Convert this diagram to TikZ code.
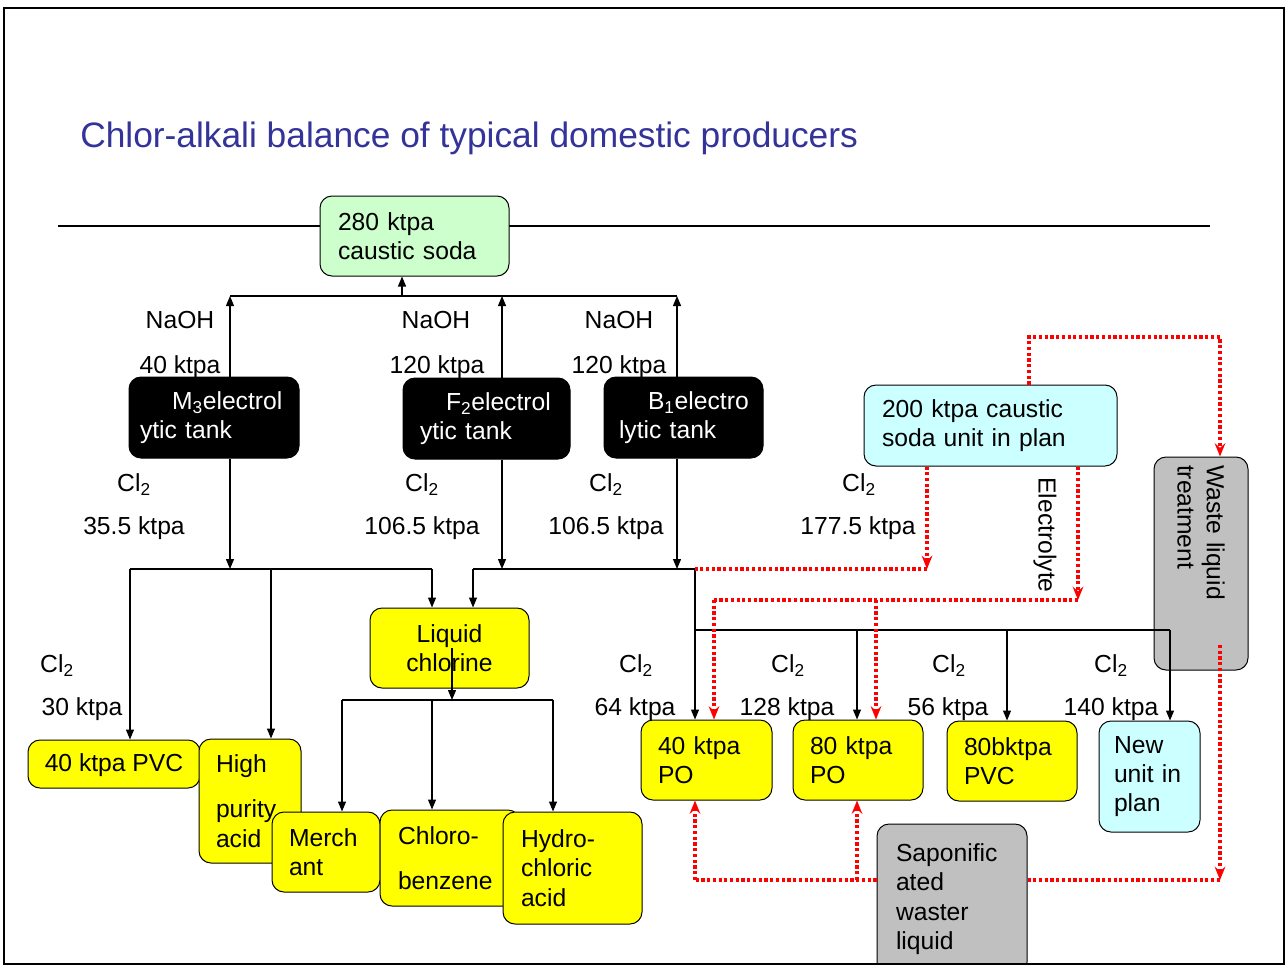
\documentclass[tikz,border=0pt]{standalone}
\usepackage{fontspec}
\setmainfont{Liberation Sans}
\usetikzlibrary{arrows.meta}
\definecolor{cgreen}{HTML}{CCFFCC}
\definecolor{ccyan}{HTML}{CCFFFF}
\definecolor{cyel}{HTML}{FFFF00}
\definecolor{cgray}{HTML}{C0C0C0}
\definecolor{ctitle}{HTML}{333399}
\definecolor{cred}{HTML}{FF0000}
\newcommand{\bodyfont}{\fontsize{18.5}{22}\selectfont}
\newcommand{\cltwo}{Cl\textsubscript{2}}
\begin{document}
\begin{tikzpicture}[x=0.75pt,y=-0.75pt,
  box/.style={draw=black,line width=0.75pt,rounded corners=9pt,inner ysep=0pt,font=\bodyfont},
  lb/.style={box,align=left},
  lab/.style={font=\bodyfont,anchor=base,inner sep=0pt},
  conn/.style={draw=black,line width=0.9pt},
  arr/.style={conn,-{Triangle[length=7.5pt,width=6pt]}},
  rdot/.style={draw=cred,line width=2.4pt,dash pattern=on 2.4pt off 1.9pt},
  rarr/.style={rdot,-{Stealth[length=10pt,width=8pt,inset=3.5pt]}}
]
\useasboundingbox (0,0) rectangle (1287,968);
\fill[white] (0,0) rectangle (1287,968);

% title
\node[anchor=base west,inner sep=0pt,text=ctitle,font=\fontsize{26.5}{30}\selectfont] (title) at (80,147) {Chlor-alkali balance of typical domestic producers};

% rule behind the top box
\coordinate (hl1) at (58,226);
\coordinate (hl2) at (1210,226);
\draw[conn] (hl1) -- (hl2);

% boxes
\node[lb,fill=cgreen,minimum height=60pt,text width=114.75pt,inner xsep=13.5pt] (cs) at (414.5,236) {280 ktpa\\caustic~soda};

\node[lb,fill=black,text=white,minimum height=60.75pt,text width=111pt,inner xsep=8.25pt] (m3) at (214,417.5) {\hspace*{24pt}M\textsubscript{3}electrol\\ytic~tank};
\node[lb,fill=black,text=white,minimum height=60.75pt,text width=99.75pt,inner xsep=12.75pt] (f2) at (486.5,418.5) {\hspace*{19.5pt}F\textsubscript{2}electrol\\ytic~tank};
\node[lb,fill=black,text=white,minimum height=60.75pt,text width=96.75pt,inner xsep=11.25pt] (b1) at (683.5,417.5) {\hspace*{21.75pt}B\textsubscript{1}electro\\lytic~tank};

\node[lb,fill=ccyan,minimum height=60.75pt,text width=162.75pt,inner xsep=13.5pt] (cp) at (990.5,425.5) {200~ktpa~caustic\\soda~unit~in~plan};

\node[lb,fill=cgray,rotate=-90,minimum height=70.5pt,text width=147.75pt,inner xsep=6pt] (wl) at (1201,563.5) {Waste~liquid\\treatment};

\node[box,fill=cyel,align=center,minimum width=119.25pt,minimum height=60pt] (lc) at (449.5,648) {Liquid\\chlorine};

\node[box,fill=cyel,align=center,minimum width=129pt,minimum height=36pt,text depth=2pt] (pvc) at (114,764) {40 ktpa PVC};
\node[lb,fill=cyel,minimum height=93pt,text width=51pt,inner xsep=12.75pt] (hp) at (250,801) {High\\[12pt]purity\\acid};
\node[lb,fill=cyel,minimum height=60pt,text width=55.5pt,inner xsep=12.75pt] (me) at (326,852) {Merch\\ant};
\node[lb,fill=cyel,minimum height=72pt,text width=78pt,inner xsep=13.5pt] (cb) at (450,858) {Chloro-\\[12pt]benzene};
\node[lb,fill=cyel,minimum height=84pt,text width=77.25pt,inner xsep=13.5pt] (hc) at (572.5,868) {Hydro-\\chloric\\acid};

\node[lb,fill=cyel,minimum height=60pt,text width=72.75pt,inner xsep=12.75pt] (po1) at (706.5,760) {40~ktpa\\PO};
\node[lb,fill=cyel,minimum height=60pt,text width=72pt,inner xsep=12.75pt] (po2) at (858,760) {80~ktpa\\PO};
\node[lb,fill=cyel,minimum height=60pt,text width=72pt,inner xsep=12.75pt] (pv2) at (1012,761) {80bktpa\\PVC};
\node[lb,fill=ccyan,minimum height=83.25pt,text width=53.25pt,inner xsep=11.25pt] (nu) at (1149.5,776.5) {New\\unit~in\\plan};

\begin{scope}
\clip (0,0) rectangle (1287,964);
\node[lb,fill=cgray,minimum height=112.5pt,text width=84pt,inner xsep=14.25pt] (sw) at (952,899) {Saponific\\ated\\waster\\liquid};
\end{scope}

% labels
\node[lab] (n1) at (180,328) {NaOH};
\node[lab] (k1) at (180,373) {40 ktpa};
\node[lab] (n2) at (436,328) {NaOH};
\node[lab] (k2) at (437,373) {120 ktpa};
\node[lab] (n3) at (619,328) {NaOH};
\node[lab] (k3) at (619,373) {120 ktpa};

\node[lab] (c1l) at (134,491) {\cltwo};
\node[lab] (c1k) at (134,534) {35.5 ktpa};
\node[lab] (c2l) at (422,491) {\cltwo};
\node[lab] (c2k) at (422,534) {106.5 ktpa};
\node[lab] (c3l) at (606,491) {\cltwo};
\node[lab] (c3k) at (606,534) {106.5 ktpa};
\node[lab] (c4l) at (859,491) {\cltwo};
\node[lab] (c4k) at (858,534) {177.5 ktpa};

\node[lab] (d1l) at (57,672) {\cltwo};
\node[lab] (d1k) at (82,715) {30 ktpa};
\node[lab] (d2l) at (636,672) {\cltwo};
\node[lab] (d2k) at (635,715) {64 ktpa};
\node[lab] (d3l) at (788,672) {\cltwo};
\node[lab] (d3k) at (787,715) {128 ktpa};
\node[lab] (d4l) at (949,672) {\cltwo};
\node[lab] (d4k) at (948,715) {56 ktpa};
\node[lab] (d5l) at (1111,672) {\cltwo};
\node[lab] (d5k) at (1111,715) {140 ktpa};

\node[font=\bodyfont,rotate=-90,inner sep=0pt] (el) at (1045,535) {Electrolyte};

% NaOH collection
\coordinate (t0) at (402,296);
\coordinate (a1) at (230,296);
\coordinate (a2) at (502,296);
\coordinate (a3) at (677,296);
\draw[conn] (a1) -- (a3);
\draw[arr] (t0) -- (t0 |- cs.south);
\draw[arr] (a1 |- m3.north) -- (a1);
\draw[arr] (a2 |- f2.north) -- (a2);
\draw[arr] (a3 |- b1.north) -- (a3);

% Cl2 down
\coordinate (c1) at (230,569);
\coordinate (c2) at (502,569);
\coordinate (c3) at (677,569);
\draw[arr] (c1 |- m3.south) -- (c1);
\draw[arr] (c2 |- f2.south) -- (c2);
\draw[arr] (c3 |- b1.south) -- (c3);

% left bus
\coordinate (L1) at (130,569);
\coordinate (L2) at (271,569);
\coordinate (L3) at (432,569);
\draw[conn] (L1) -- (L3);
\draw[arr] (L1) -- (L1 |- pvc.north);
\draw[arr] (L2) -- (L2 |- hp.north);
\draw[arr] (L3) -- (L3 |- lc.north);

% right bus
\coordinate (R1) at (473,569);
\coordinate (R2) at (695,569);
\coordinate (R3) at (695,630);
\coordinate (B2) at (857,630);
\coordinate (B3) at (1007,630);
\coordinate (B4) at (1170,630);
\draw[conn] (R1) -- (R2);
\draw[arr] (R1) -- (R1 |- lc.north);
\draw[arr] (R2) -- (R2 |- po1.north);
\draw[conn] (R3) -- (B4);
\draw[arr] (B2) -- (B2 |- po2.north);
\draw[arr] (B3) -- (B3 |- pv2.north);
\draw[arr] (B4) -- (B4 |- nu.north);

% liquid chlorine distribution
\coordinate (q0) at (452,700);
\coordinate (q1) at (342,700);
\coordinate (q2) at (432,700);
\coordinate (q3) at (553,700);
\draw[arr] (q0 |- lc.center) -- (q0);
\draw[conn] (q1) -- (q3);
\draw[arr] (q1) -- (q1 |- me.north);
\draw[arr] (q2) -- (q2 |- cb.north);
\draw[arr] (q3) -- (q3 |- hc.north);

% red dotted flows
\coordinate (r1) at (927,569);
\draw[rarr] (r1 |- cp.south) -- (r1);
\draw[rdot] (r1) -- (R2);

\coordinate (r2) at (1078,600);
\coordinate (r3) at (714,600);
\coordinate (r4) at (876,600);
\draw[rarr] (r2 |- cp.south) -- (r2);
\draw[rdot] (r2) -- (r3);
\draw[rarr] (r3) -- (r3 |- po1.north);
\draw[rarr] (r4) -- (r4 |- po2.north);

\coordinate (r5) at (1029,337);
\coordinate (r6) at (1220,337);
\draw[rarr] (r5 |- cp.north) -- (r5) -- (r6) -- (r6 |- wl.west);

\coordinate (r8) at (1220,645);
\coordinate (r7) at (1220,880);
\draw[rarr] (r8) -- (r7);
\draw[rdot] (sw.east |- r7) -- (r7);

\coordinate (s1) at (695,880);
\coordinate (s2) at (857,880);
\draw[rdot] (sw.west |- s1) -- (s1);
\draw[rarr] (s1) -- (s1 |- po1.south);
\draw[rarr] (s2) -- (s2 |- po2.south);

% frame
\draw[line width=2.2pt] (4,8) rectangle (1284,964);
\end{tikzpicture}
\end{document}
